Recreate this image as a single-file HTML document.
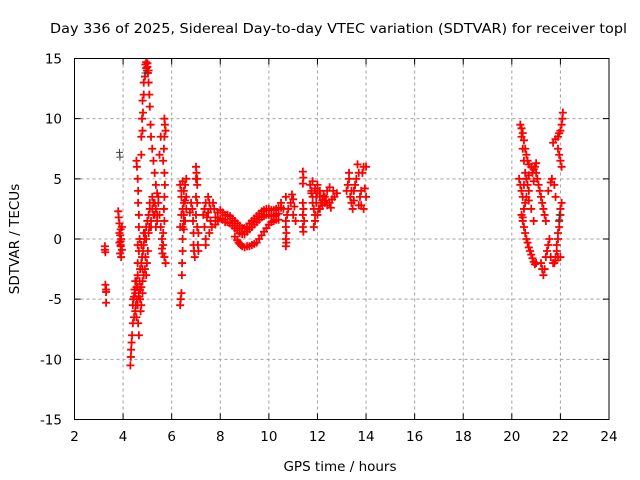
<!DOCTYPE html>
<html><head><meta charset="utf-8"><style>
html,body{margin:0;padding:0;background:#fff;}
svg{display:block;font-family:"DejaVu Sans","Liberation Sans",sans-serif;}
</style></head><body>
<svg id="chart" width="640" height="480" viewBox="0 0 640 480" xmlns="http://www.w3.org/2000/svg">
<rect width="640" height="480" fill="#fff"/>
<text x="50" y="33" font-size="13.5" fill="#000" textLength="577" lengthAdjust="spacingAndGlyphs">Day 336 of 2025, Sidereal Day-to-day VTEC variation (SDTVAR) for receiver topl</text>
<g id="grid"></g>
<g id="marks"></g>
<rect x="74.5" y="58.5" width="534.5" height="361" fill="none" stroke="#000" stroke-width="1"/>
<g id="ticks"></g>
<text x="340" y="471" font-size="13.5" text-anchor="middle">GPS time / hours</text>
<text transform="translate(19,239) rotate(-90)" font-size="13.5" text-anchor="middle">SDTVAR / TECUs</text>
</svg>
<script>
const xTicks=[2,4,6,8,10,12,14,16,18,20,22,24];
const yTicks=[-15,-10,-5,0,5,10,15];
const s1t=[3.25,3.25,3.27,3.27,3.3,3.3,3.3];
const s1v=[-0.6,-0.9,-1.1,-3.8,-4.2,-4.4,-5.3];
const s2t=[3.8,3.82,3.85,3.9,3.88,3.92,3.85,3.9,3.95,3.88,3.92,3.95,3.9,3.85,3.9];
const s2v=[2.3,1.8,1.3,0.8,0.3,0.0,-0.3,-0.6,-0.9,-1.2,-1.5,1.0,-0.5,0.5,-0.2];
const s3t=[4.3,4.32,4.33,4.35,4.37,4.4,4.4,4.42,4.45,4.47,4.5,4.5,4.52,4.55,4.57,4.6,4.6,4.62,4.65,4.65,4.68,4.7,4.72,4.75,4.78,4.8,4.82,4.85,4.88,4.9,4.92,4.95,4.98,5.0,5.02,5.05,5.08,5.1,5.15,5.2,5.25,5.3,5.35,5.4,5.45,4.7,4.75,4.8,4.85,4.9,4.95,4.55,4.45,4.6,4.65,4.7,4.75,4.8,4.55,4.5,4.6,4.65,4.75,4.85,4.95,5.05,5.15,5.25,5.3,5.35,5.4,5.2,5.1];
const s3v=[-10.5,-9.8,-9.2,-8.6,-8.0,-7,-5.5,-5,-4.8,-4.2,-3.5,-6,-5.5,-6.5,-5,-4,-3,-7,-8,-4.5,-3.5,-2.5,-6,-2,-1.5,-2.5,-1.0,-0.5,0,0.5,-1.5,1.0,-2,1.5,-1,2.0,1.0,2.5,1.5,2.5,3.0,2.0,2.5,1.5,3.5,-5.0,-4.0,-3.5,-3.0,-2.5,-3.0,-4.0,-6.5,-5.5,-4.8,-4.2,-5.5,-4.5,-3.5,-4.5,-2.0,-1.0,-0.5,0.5,0.0,0.5,1.0,2.0,3.0,1.0,2.0,3.5,3.0];
const s4t=[4.55,4.57,4.6,4.62,4.62,4.65,4.65,4.68,4.6,4.75,4.8,4.82,4.85,4.9,4.92,4.95,5.0,5.02,5.05,5.08,5.1,5.13,5.15,5.2,5.25,5.3,5.35,5.4,5.45,5.5,5.55,5.6,5.65,5.7,5.75,4.85,4.8,4.78,4.75,5.7,5.72,5.75,5.7,5.68,5.65,5.7,5.72,5.7,5.68,5.7,5.65,5.55,5.5,5.6,5.62,4.95,4.98,5.0,5.05];
const s4v=[6.5,6.0,5.0,4.0,3.0,2.0,1.0,0.0,-0.5,7,9,10.5,12,13.5,14.5,14.7,14.3,13.8,13.0,12,11,9.5,8.5,7.5,6.5,5.5,4.5,3.8,3.0,2.0,1.0,0.0,-0.5,-1.5,-2.0,13.0,11.5,10,8.5,10.0,9.5,9.0,8.5,7.5,6.5,5.5,4.5,3.5,2.5,1.5,0.5,8.5,7.0,-0.8,-1.2,14.2,14.0,14.6,14.0];
const s5t=[6.35,6.37,6.4,6.42,6.43,6.45,6.45,6.45,6.4,6.45,6.5,6.5,6.45,6.55,6.6,6.6,6.55,6.5,6.35,6.4,6.35,6.6,6.5,6.55,6.4,6.5];
const s5v=[-5.5,-5.0,-4.5,-3,-2,-1,0,1,2,2.5,3,4,4.8,4.5,3.5,2.5,1.5,0.8,4.5,3.5,1.0,5.0,2.0,3.2,4.0,1.5];
const s6t=[6.85,6.88,6.9,6.9,6.92,6.95,7.0,7.02,7.05,7.05,7.0,7.05,7.1,7.08,7.1,7.05,7.0,6.8,6.75,7.0];
const s6v=[2.5,1.5,0.5,-0.5,-1.0,-1.5,6.0,5.5,5.0,4.5,2.0,1.0,0.5,-0.5,-1.0,3.0,3.5,3.0,2.2,5.0];
const s7t=[7.3,7.35,7.4,7.35,7.4,7.4,7.5,7.55,7.6,7.6,7.65,7.55,7.7,7.75,7.45,7.5];
const s7v=[2.0,2.5,3.0,1.0,0.0,-0.5,3.5,3.0,2.5,1.5,1.0,0.5,3.0,2.5,1.8,2.2];
const s8t=[7.8,7.9,8.0,8.1,8.2,8.3,8.4,8.5,8.6,8.7,8.8,8.9,9.0,9.1,9.2,9.3,9.4,9.5,9.6,9.7,9.8,9.9,10.0,10.1,10.2,10.3,10.4,10.5];
const s8v=[1.8,2.2,2.4,2.2,2.0,2.0,1.9,1.7,1.5,1.3,1.1,0.9,0.9,1.0,1.3,1.5,1.7,1.9,2.1,2.3,2.4,2.5,2.5,2.4,2.4,2.5,2.6,2.6];
const s8bt=[7.8,7.9,8.0,8.1,8.2,8.3,8.4,8.5,8.6,8.7,8.8,8.9,9.0,9.1,9.2,9.3,9.4,9.5,9.6,9.7,9.8,9.9,10.0,10.1,10.2,10.3,10.4];
const s8bv=[1.2,1.5,1.7,1.6,1.4,1.4,1.3,1.1,0.9,0.7,0.5,0.4,0.4,0.6,0.8,1.0,1.2,1.4,1.6,1.8,1.9,2.0,2.0,1.9,1.9,2.0,2.1];
const s9t=[8.6,8.7,8.75,8.8,8.85,8.9,9.0,9.1,9.2,9.3,9.4,9.5,9.6,9.7,9.8,9.9,10.0,10.1,10.2,10.3,10.4];
const s9v=[0.2,-0.1,-0.3,-0.4,-0.5,-0.6,-0.7,-0.6,-0.6,-0.5,-0.4,-0.3,0.0,0.3,0.6,0.9,1.2,1.4,1.5,1.6,1.6];
const s10t=[10.5,10.6,10.7,10.75,10.7,10.8,10.9,11.0,11.1,10.7,10.72,10.7,10.72,10.7,11.4,11.42,11.4,11.4,11.42,11.4,11.45,11.4,11.42,11.0,10.95,11.05];
const s10v=[3.0,2.5,3.5,2.0,1.5,2.5,3.0,2.0,1.5,1.0,0.5,0.0,-0.3,-0.6,5.6,5.1,4.6,3.0,2.5,2.0,1.5,1.0,0.6,3.3,3.7,2.7];
const s11t=[11.7,11.75,11.8,11.8,11.85,11.9,11.9,11.8,11.9,12.0,12.1,12.2,12.3,12.4,12.5,12.6,12.0,12.1,12.2,12.3,12.4,12.5,12.0,12.1,11.95,12.05,12.7,12.8,11.85,12.15,12.25,12.55,12.65,11.75,11.95,12.35];
const s11v=[4.5,4.0,3.5,3.0,2.5,2.0,1.5,4.8,4.2,3.8,3.5,3.2,3.0,2.8,3.0,3.3,2.0,2.5,2.8,3.5,4.0,4.3,4.5,4.0,3.0,2.5,3.5,3.8,1.0,3.0,3.6,2.6,4.0,3.8,3.5,3.2];
const s12t=[13.2,13.25,13.3,13.3,13.35,13.4,13.45,13.5,13.55,13.6,13.65,13.7,13.75,13.8,13.85,13.9,14.0,13.8,13.9,14.0,13.95,13.7,13.5,13.4];
const s12v=[4.0,4.5,5.0,5.5,3.5,3.0,2.5,4.0,4.5,5.0,6.2,5.5,3.5,4.0,5.5,6.0,6.0,2.8,2.5,3.5,4.2,2.8,3.2,4.0];
const r1t=[20.35,20.4,20.45,20.5,20.55,20.6,20.65,20.7,20.8,20.9,21.0,21.05,21.1,21.15,21.2,21.25,21.3,21.35,21.4];
const r1v=[9.5,9.2,8.8,8.2,7.5,7.0,6.5,6.2,6.0,5.8,5.5,5.0,4.5,4.0,3.5,3.0,2.5,2.0,1.5];
const r2t=[20.4,20.45,20.5,20.55,20.6,20.65,20.7,20.6,20.55,20.5,20.45,20.7,20.8,20.9];
const r2v=[8.5,7.5,6.5,5.5,5.0,4.5,4.0,3.5,3.0,2.5,1.8,3.2,2.5,1.5];
const r3t=[20.4,20.45,20.5,20.55,20.6,20.65,20.7,20.75,20.8,20.85,20.9,20.95,21.0];
const r3v=[2.0,1.5,1.0,0.5,0.0,-0.3,-0.7,-1.0,-1.3,-1.6,-1.9,-2.1,-2.0];
const r4t=[20.3,20.35,20.4,20.45,20.5,20.6,20.7,20.85,20.95,21.0,20.9];
const r4v=[5.0,4.5,4.0,3.5,4.5,5.0,5.3,5.5,6.0,6.3,4.8];
const r5t=[21.2,21.25,21.3,21.35,21.4,21.45,21.5,21.55,21.6,21.7,21.8,21.9,22.0];
const r5v=[-2.0,-2.5,-3.0,-2.5,-1.5,-1.0,-0.5,0.0,-1.5,-2.0,-1.8,-1.5,-1.5];
const r6t=[22.1,22.08,22.05,22.0,21.95,21.9,21.8,21.7,21.9,21.95,22.0,22.05,22.05,22.0,22.0,21.95,21.95,21.9,21.9,21.85,21.85,21.8,21.75,21.65,21.6,21.75,21.8,21.5];
const r6v=[10.5,10.0,9.5,9.0,8.8,8.5,8.3,8.0,7.5,7.0,6.5,6.0,3.0,2.5,2.0,1.5,1.0,0.5,0.0,-0.5,-1.0,-1.5,-2.0,5.0,4.7,4.5,3.5,4.0];
const darkT=[3.85,3.87,4.9,21.95,21.95];
const darkV=[7.2,6.8,13.8,2.0,1.6];

const X=t=>74.5+(t-2)*(609-74.5)/22;
const Y=v=>239-v*(361/30);
const NS="http://www.w3.org/2000/svg";
const grid=document.getElementById('grid'),ticks=document.getElementById('ticks'),marks=document.getElementById('marks');
function mk(tag,attrs,parent){const e=document.createElementNS(NS,tag);for(const k in attrs)e.setAttribute(k,attrs[k]);parent.appendChild(e);return e;}
xTicks.forEach(t=>{
  const x=X(t);
  if(t>2&&t<24){const g=mk('line',{x1:x,x2:x,y1:58.5,y2:419.5,stroke:'#a0a0a0','stroke-dasharray':'3,3'},grid);
  
  }
  const tk=mk('path',{d:`M${x},419.5v-6M${x},58.5v6`,stroke:'#000'},ticks);
  
  
  const l=mk('text',{x:x,y:441,'font-size':13.5,'text-anchor':'middle'},ticks);l.textContent=t;
  
  
});
yTicks.forEach(v=>{
  const y=Y(v);
  if(v>-15&&v<15){const g=mk('line',{x1:74.5,x2:609,y1:y,y2:y,stroke:'#a0a0a0','stroke-dasharray':'3,3'},grid);
  
  }
  const tk=mk('path',{d:`M74.5,${y}h6M609,${y}h-6`,stroke:'#000'},ticks);
  
  
  const l=mk('text',{x:62,y:y+5,'font-size':13.5,'text-anchor':'end'},ticks);l.textContent=v;
  
  
});
const series=[[s1t,s1v],[s2t,s2v],[s3t,s3v],[s4t,s4v],[s5t,s5v],[s6t,s6v],[s7t,s7v],[s8t,s8v],[s8bt,s8bv],[s9t,s9v],[s10t,s10v],[s11t,s11v],[s12t,s12v],[r1t,r1v],[r2t,r2v],[r3t,r3v],[r4t,r4v],[r5t,r5v],[r6t,r6v]];
series.forEach((s,i)=>{
  let d='';
  s[0].forEach((t,j)=>{const x=X(t),y=Y(s[1][j]);d+=`M${x-4},${y}h8M${x},${y-4}v8`;});
  const p=mk('path',{d:d,stroke:'#ff0000','stroke-width':1.8,fill:'none'},marks);
  
  
});
let dd='';
darkT.forEach((t,j)=>{const x=X(t),y=Y(darkV[j]);dd+=`M${x-3.5},${y}h7M${x},${y-3.5}v7`;});
const dp=mk('path',{d:dd,stroke:'#404040','stroke-width':1,fill:'none'},marks);


</script>
</body></html>
